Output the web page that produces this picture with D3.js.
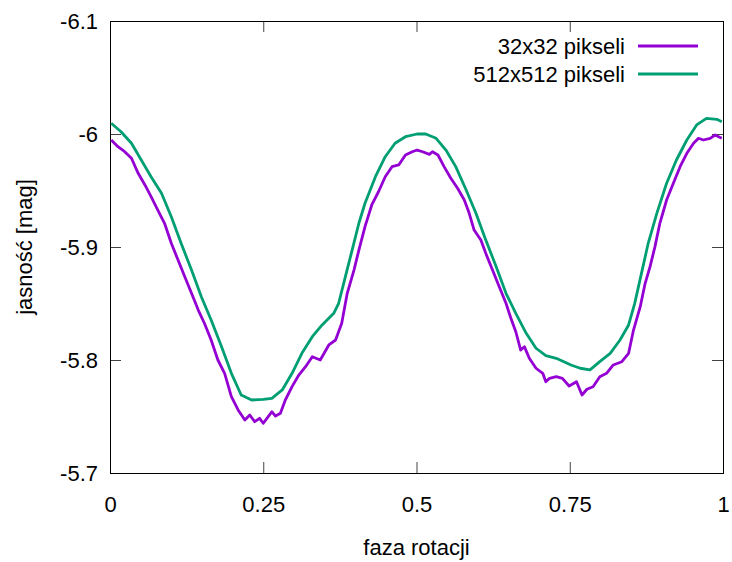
<!DOCTYPE html>
<html>
<head>
<meta charset="utf-8">
<script src="https://cdn.jsdelivr.net/npm/d3@7"></script>
<style>
  body { margin: 0; background: #fff; }
  svg { display: block; font-family: "Liberation Sans", Arial, sans-serif; }
  .axis-label { font-size: 22px; fill: #000; }
</style>
</head>
<body>
<svg id="chart"></svg>
<script>
// rotation phase / magnitude
const phase32 = [0.002, 0.013, 0.024, 0.035, 0.046, 0.057, 0.067, 0.078, 0.089, 0.100, 0.111, 0.122, 0.133, 0.144, 0.154, 0.165, 0.176, 0.187, 0.198, 0.209, 0.220, 0.228, 0.236, 0.244, 0.250, 0.256, 0.264, 0.270, 0.278, 0.286, 0.297, 0.308, 0.319, 0.330, 0.343, 0.357, 0.368, 0.378, 0.387, 0.398, 0.406, 0.416, 0.427, 0.438, 0.449, 0.460, 0.471, 0.482, 0.493, 0.501, 0.510, 0.521, 0.526, 0.535, 0.545, 0.556, 0.567, 0.578, 0.586, 0.594, 0.605, 0.613, 0.624, 0.635, 0.646, 0.654, 0.662, 0.670, 0.676, 0.684, 0.695, 0.706, 0.711, 0.717, 0.728, 0.738, 0.749, 0.761, 0.770, 0.778, 0.788, 0.799, 0.810, 0.821, 0.835, 0.846, 0.854, 0.865, 0.873, 0.881, 0.889, 0.897, 0.908, 0.919, 0.930, 0.941, 0.952, 0.960, 0.968, 0.979, 0.987, 0.998];
const mag32 = [-5.9947, -5.9888, -5.9843, -5.9785, -5.9652, -5.9549, -5.9445, -5.9327, -5.9210, -5.9033, -5.8885, -5.8737, -5.8590, -5.8442, -5.8325, -5.8177, -5.8000, -5.7882, -5.7675, -5.7558, -5.7469, -5.7513, -5.7454, -5.7484, -5.7440, -5.7484, -5.7542, -5.7504, -5.7528, -5.7646, -5.7764, -5.7867, -5.7941, -5.8029, -5.8000, -5.8133, -5.8177, -5.8325, -5.8590, -5.8796, -5.8973, -5.9180, -5.9372, -5.9489, -5.9622, -5.9711, -5.9726, -5.9814, -5.9843, -5.9858, -5.9843, -5.9820, -5.9843, -5.9814, -5.9711, -5.9608, -5.9520, -5.9416, -5.9298, -5.9150, -5.9062, -5.8944, -5.8796, -5.8649, -5.8502, -5.8369, -5.8250, -5.8088, -5.8118, -5.8015, -5.7927, -5.7882, -5.7808, -5.7838, -5.7852, -5.7838, -5.7770, -5.7808, -5.7690, -5.7741, -5.7764, -5.7852, -5.7882, -5.7956, -5.7985, -5.8059, -5.8265, -5.8472, -5.8679, -5.8826, -5.9003, -5.9210, -5.9416, -5.9564, -5.9711, -5.9829, -5.9918, -5.9962, -5.9947, -5.9962, -5.9991, -5.9962];

const phase512 = [0.002, 0.018, 0.035, 0.051, 0.067, 0.084, 0.100, 0.116, 0.133, 0.149, 0.165, 0.182, 0.198, 0.214, 0.231, 0.250, 0.264, 0.281, 0.297, 0.313, 0.330, 0.346, 0.365, 0.373, 0.384, 0.395, 0.406, 0.416, 0.433, 0.449, 0.465, 0.482, 0.501, 0.515, 0.532, 0.548, 0.564, 0.581, 0.597, 0.613, 0.630, 0.646, 0.662, 0.679, 0.695, 0.711, 0.728, 0.752, 0.767, 0.783, 0.799, 0.816, 0.832, 0.846, 0.856, 0.867, 0.878, 0.892, 0.908, 0.924, 0.941, 0.957, 0.973, 0.990, 0.998];
const mag512 = [-6.0095, -6.0020, -5.9918, -5.9770, -5.9622, -5.9475, -5.9268, -5.9033, -5.8796, -5.8560, -5.8354, -5.8118, -5.7882, -5.7690, -5.7646, -5.7652, -5.7661, -5.7735, -5.7882, -5.8059, -5.8206, -5.8310, -5.8413, -5.8502, -5.8737, -5.8973, -5.9210, -5.9387, -5.9622, -5.9799, -5.9918, -5.9976, -6.0000, -6.0000, -5.9962, -5.9858, -5.9711, -5.9504, -5.9298, -5.9062, -5.8826, -5.8590, -5.8413, -5.8236, -5.8104, -5.8038, -5.8015, -5.7956, -5.7927, -5.7912, -5.7985, -5.8059, -5.8177, -5.8310, -5.8502, -5.8767, -5.9033, -5.9298, -5.9564, -5.9770, -5.9947, -6.0080, -6.0139, -6.0130, -6.0109];

const seriesNames = ["32x32 pikseli", "512x512 pikseli"];
const seriesColors = ["#9400d3", "#009e73"];
const xTicks = [0, 0.25, 0.5, 0.75, 1];
const yTicks = [-6.1, -6, -5.9, -5.8, -5.7];

const width = 732, height = 562;
const margin = { top: 21, right: 9, bottom: 89, left: 110 };
const innerW = width - margin.left - margin.right;
const innerH = height - margin.top - margin.bottom;
const fontSize = "22px";

const svg = d3.select("#chart")
  .attr("width", width)
  .attr("height", height);

const g = svg.append("g")
  .attr("transform", `translate(${margin.left},${margin.top})`);

const x = d3.scaleLinear().domain([0, 1]).range([0, innerW]);
// magnitudes: brighter (more negative) at the top
const y = d3.scaleLinear().domain([-6.1, -5.7]).range([0, innerH]);

const tickLen = 11;

// ticks on all four sides, pointing inward (gnuplot style)
const xAxisBottom = d3.axisBottom(x).tickValues(xTicks).tickSizeInner(-tickLen).tickSizeOuter(0).tickPadding(23).tickFormat(d => String(d));
const xAxisTop = d3.axisTop(x).tickValues(xTicks).tickSizeInner(-tickLen).tickSizeOuter(0).tickFormat("");
const yAxisLeft = d3.axisLeft(y).tickValues(yTicks).tickSizeInner(-tickLen).tickSizeOuter(0).tickPadding(12).tickFormat(d => String(d));
const yAxisRight = d3.axisRight(y).tickValues(yTicks).tickSizeInner(-tickLen).tickSizeOuter(0).tickFormat("");

function styleAxis(sel) {
  sel.select(".domain").remove();
  sel.selectAll(".tick line").attr("stroke", "#444");
  sel.selectAll(".tick text")
    .attr("fill", "#000")
    .style("font-size", fontSize)
    .style("font-family", "'Liberation Sans', Arial, sans-serif");
}

g.append("g").attr("transform", `translate(0,${innerH})`).call(xAxisBottom).call(styleAxis);
g.append("g").call(xAxisTop).call(styleAxis);
g.append("g").call(yAxisLeft).call(styleAxis);
g.append("g").attr("transform", `translate(${innerW},0)`).call(yAxisRight).call(styleAxis);

// frame
g.append("rect")
  .attr("x", 0.5)
  .attr("y", 0.5)
  .attr("width", innerW)
  .attr("height", innerH)
  .attr("fill", "none")
  .attr("stroke", "#000")
  .attr("stroke-width", 1);

// curves
const line = d3.line()
  .x(d => x(d[0]))
  .y(d => y(d[1]));

const curves = [
  d3.zip(phase32, mag32),
  d3.zip(phase512, mag512)
];

// green first so purple sits on top where they touch
[1, 0].forEach(i => {
  g.append("path")
    .datum(curves[i])
    .attr("fill", "none")
    .attr("stroke", seriesColors[i])
    .attr("stroke-width", 2.8)
    .attr("stroke-linejoin", "round")
    .attr("d", line);
});

// legend
const legend = svg.append("g");
seriesNames.forEach((name, i) => {
  const ly = 46 + i * 28;
  legend.append("text")
    .attr("class", "axis-label")
    .attr("x", 625)
    .attr("y", ly)
    .attr("dy", "0.36em")
    .attr("text-anchor", "end")
    .text(name);
  legend.append("line")
    .attr("x1", 638)
    .attr("x2", 698)
    .attr("y1", ly)
    .attr("y2", ly)
    .attr("stroke", seriesColors[i])
    .attr("stroke-width", 2.8);
});

// axis titles
svg.append("text")
  .attr("class", "axis-label")
  .attr("x", margin.left + innerW / 2)
  .attr("y", 555)
  .attr("text-anchor", "middle")
  .text("faza rotacji");

svg.append("text")
  .attr("class", "axis-label")
  .attr("transform", `translate(32,${margin.top + innerH / 2}) rotate(-90)`)
  .attr("text-anchor", "middle")
  .text("jasność [mag]");
</script>
</body>
</html>
